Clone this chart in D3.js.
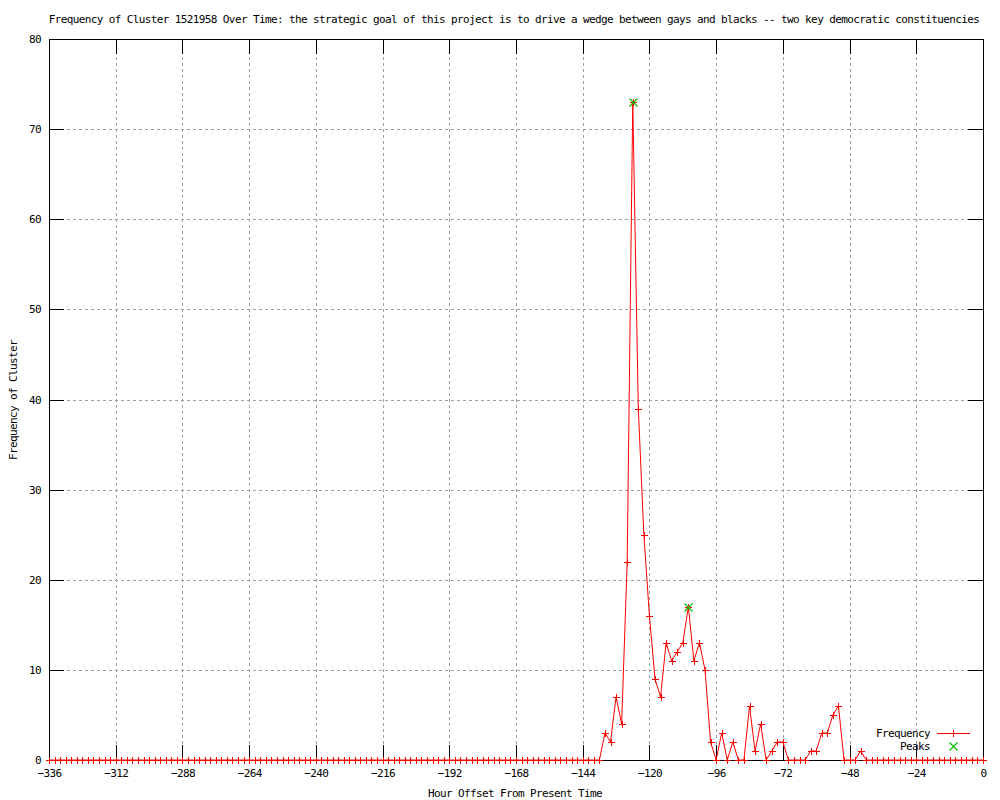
<!DOCTYPE html>
<html>
<head>
<meta charset="utf-8">
<script src="https://cdn.jsdelivr.net/npm/d3@7"></script>
<style>
  body { margin: 0; background: #fff; }
  text { font-family: "DejaVu Sans Mono", monospace; font-size: 11px; letter-spacing: -0.62px; fill: #000; }
</style>
</head>
<body>
<div id="chart"></div>
<script>
// hours before present, one sample every 2 hours
const hours = d3.range(-336, 1, 2);
const freq = [
  0,0,0,0,0,0,0,0,0,0, 0,0,0,0,0,0,0,0,0,0,
  0,0,0,0,0,0,0,0,0,0, 0,0,0,0,0,0,0,0,0,0,
  0,0,0,0,0,0,0,0,0,0, 0,0,0,0,0,0,0,0,0,0,
  0,0,0,0,0,0,0,0,0,0, 0,0,0,0,0,0,0,0,0,0,
  0,0,0,0,0,0,0,0,0,0, 0,0,0,0,0,0,0,0,0,0,
  3,2,7,4,22,73,39,25,16,9,7,13,11,12,13,17,11,13,10,2,
  0,3,0,2,0,0,6,1,4,0,1,2,2,0,0,0,0,1,1,3,3,5,6,0,0,0,1,
  0,0,0,0,0,0,0,0,0,0,0,0,0,0,0,0,0,0,0,0,0,0
];
const peakHours = [-126, -106];
const peakValues = [73, 17];
const xTicks = [-336,-312,-288,-264,-240,-216,-192,-168,-144,-120,-96,-72,-48,-24,0];
const yTicks = [0,10,20,30,40,50,60,70,80];

const titleText = 'Frequency of Cluster 1521958 Over Time: the strategic goal of this project is to drive a wedge between gays and blacks -- two key democratic constituencies';

const W = 1000, H = 800;
const pL = 49, pR = 983, pT = 39, pB = 760;
const red = '#ff0000', green = '#00c000';

const svg = d3.select('#chart').append('svg')
  .attr('width', W).attr('height', H);

const x = d3.scaleLinear().domain([-336, 0]).range([pL, pR]);
const y = d3.scaleLinear().domain([0, 80]).range([pB, pT]);

// grid
svg.append('g').selectAll('line.gx')
  .data(xTicks.slice(1, -1)).enter().append('line')
  .attr('x1', d => Math.round(x(d)) + 0.5).attr('x2', d => Math.round(x(d)) + 0.5)
  .attr('y1', pT).attr('y2', pB)
  .attr('stroke', '#a0a0a0').attr('stroke-dasharray', '3,3')
  .attr('shape-rendering', 'crispEdges');
svg.append('g').selectAll('line.gy')
  .data(yTicks.slice(1, -1)).enter().append('line')
  .attr('y1', d => Math.round(y(d)) + 0.5).attr('y2', d => Math.round(y(d)) + 0.5)
  .attr('x1', pL).attr('x2', pR)
  .attr('stroke', '#a0a0a0').attr('stroke-dasharray', '3,3')
  .attr('shape-rendering', 'crispEdges');

// axes (ticks inward, mirrored)
const tick = 15;
const xAxisB = d3.axisBottom(x).tickValues(xTicks).tickSizeInner(-tick).tickSizeOuter(0);
const xAxisT = d3.axisTop(x).tickValues(xTicks).tickSizeInner(-tick).tickSizeOuter(0).tickFormat('');
const yAxisL = d3.axisLeft(y).tickValues(yTicks).tickSizeInner(-tick).tickSizeOuter(0);
const yAxisR = d3.axisRight(y).tickValues(yTicks).tickSizeInner(-tick).tickSizeOuter(0).tickFormat('');

function styleAxis(g) {
  g.select('.domain').remove();
  g.selectAll('line').attr('stroke', '#000').attr('shape-rendering', 'crispEdges');
  g.attr('font-family', null).attr('font-size', null);
}
svg.append('g').attr('transform', `translate(0,${pB})`).call(xAxisB).call(styleAxis)
  .selectAll('text').attr('dy', '0.32em').attr('y', 13);
svg.append('g').attr('transform', `translate(0,${pT})`).call(xAxisT).call(styleAxis);
svg.append('g').attr('transform', `translate(${pL},0)`).call(yAxisL).call(styleAxis)
  .selectAll('text').attr('x', -8);
svg.append('g').attr('transform', `translate(${pR},0)`).call(yAxisR).call(styleAxis);

// data line
const pts = hours.map((h, i) => [h, freq[i]]);
const line = d3.line().x(d => x(d[0])).y(d => y(d[1]));
svg.append('path').datum(pts)
  .attr('d', line).attr('fill', 'none')
  .attr('stroke', red).attr('stroke-width', 1);

const m = 3.5, mx = 4;
const plus = (cx, cy) => `M${cx - m},${cy}H${cx + m}M${cx},${cy - m}V${cy + m}`;
const cross = (cx, cy) => `M${cx - mx},${cy - mx}L${cx + mx},${cy + mx}M${cx - mx},${cy + mx}L${cx + mx},${cy - mx}`;

// border (drawn before the markers so the zero markers stay red on the baseline)
svg.append('rect')
  .attr('x', pL + 0.5).attr('y', pT + 0.5)
  .attr('width', pR - pL).attr('height', pB - pT)
  .attr('fill', 'none').attr('stroke', '#000').attr('shape-rendering', 'crispEdges');

svg.append('g').selectAll('path.mk')
  .data(pts).enter().append('path')
  .attr('d', d => plus(Math.round(x(d[0])) + 0.5, Math.round(y(d[1])) + 0.5))
  .attr('stroke', red).attr('fill', 'none').attr('shape-rendering', 'crispEdges');

// peaks
const peaks = peakHours.map((h, i) => [h, peakValues[i]]);
svg.append('g').selectAll('path.pk')
  .data(peaks).enter().append('path')
  .attr('d', d => cross(Math.round(x(d[0])) + 0.5, Math.round(y(d[1])) + 0.5))
  .attr('stroke', green).attr('stroke-width', 1.2).attr('fill', 'none');

// legend
const legX = 930, legY1 = 733, legY2 = 746, legM = 953.5;
svg.append('text').attr('x', legX).attr('y', legY1).attr('dy', '0.35em')
  .attr('text-anchor', 'end').text('Frequency');
svg.append('path').attr('d', `M937,${legY1 + 0.5}H970`)
  .attr('stroke', red).attr('fill', 'none').attr('shape-rendering', 'crispEdges');
svg.append('path').attr('d', plus(legM, legY1 + 0.5))
  .attr('stroke', red).attr('fill', 'none').attr('shape-rendering', 'crispEdges');
svg.append('text').attr('x', legX).attr('y', legY2).attr('dy', '0.35em')
  .attr('text-anchor', 'end').text('Peaks');
svg.append('path').attr('d', cross(legM, legY2 + 0.5))
  .attr('stroke', green).attr('stroke-width', 1.2).attr('fill', 'none');

// titles
svg.append('text').attr('x', 514).attr('y', 19).attr('dy', '0.35em')
  .attr('text-anchor', 'middle').text(titleText);
svg.append('text').attr('x', 515).attr('y', 793).attr('dy', '0.35em')
  .attr('text-anchor', 'middle').text('Hour Offset From Present Time');
svg.append('text').attr('transform', 'translate(13,400) rotate(-90)').attr('dy', '0.35em')
  .attr('text-anchor', 'middle').text('Frequency of Cluster');
</script>
</body>
</html>
